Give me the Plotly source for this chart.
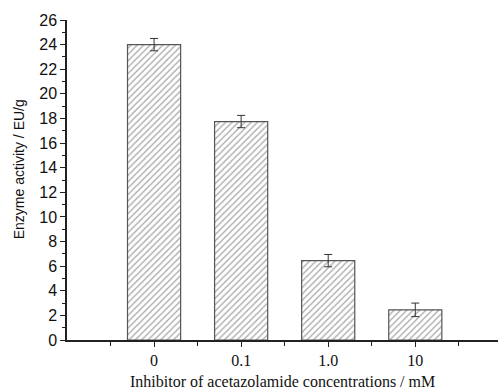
import plotly.graph_objects as go

categories = ["0", "0.1", "1.0", "10"]
activity = [24.0, 17.75, 6.45, 2.45]
errors = [0.5, 0.5, 0.5, 0.55]

x_title = "Inhibitor of acetazolamide concentrations / mM"
y_title = "Enzyme activity / EU/g"

xpos = list(range(len(categories)))

fig = go.Figure()
fig.add_trace(go.Bar(
    x=xpos, y=activity, width=0.61,
    marker=dict(color="white",
                line=dict(color="#555555", width=1.2),
                pattern=dict(shape="/", fgcolor="#555555", bgcolor="white", size=4.5, solidity=0.3)),
    error_y=dict(type="data", array=errors, visible=True, color="#333333", thickness=1, width=4),
))

fig.update_layout(
    width=498, height=391,
    margin=dict(l=67, r=0, t=20, b=51),
    paper_bgcolor="white", plot_bgcolor="white",
    showlegend=False,
    xaxis=dict(range=[-1, 3.95], tickvals=xpos, ticktext=categories, automargin=False,
               showline=True, linecolor="#222222", linewidth=1.5,
               ticks="outside", ticklen=5, tickcolor="#222222", tickwidth=1.2,
               showgrid=False, zeroline=False,
               minor=dict(tick0=-0.5, dtick=1, ticks="outside", ticklen=4, tickcolor="#222222", showgrid=False),
               tickfont=dict(family="Liberation Serif", size=16, color="#111111")),
    yaxis=dict(range=[0, 26], dtick=2, showline=True, linecolor="#222222", linewidth=1.5, automargin=False,
               ticks="outside", ticklen=5, tickcolor="#222222", tickwidth=1.2,
               showgrid=False, zeroline=False,
               minor=dict(dtick=1, ticks="outside", ticklen=3, tickcolor="#222222", showgrid=False),
               tickfont=dict(family="Liberation Sans", size=16, color="#111111")),
    annotations=[
        dict(text=x_title, xref="paper", yref="paper", x=0.5, y=-0.131,
             xanchor="center", yanchor="middle", showarrow=False,
             font=dict(family="Liberation Serif", size=16, color="#111111")),
        dict(text=y_title, xref="paper", yref="paper", x=-0.111, y=0.534,
             xanchor="center", yanchor="middle", showarrow=False, textangle=-90,
             font=dict(family="Liberation Sans", size=14, color="#111111")),
    ],
)

fig.write_html("out.html", config={"displayModeBar": False},
               post_script="document.body.style.margin='0';document.body.style.overflow='hidden';")
